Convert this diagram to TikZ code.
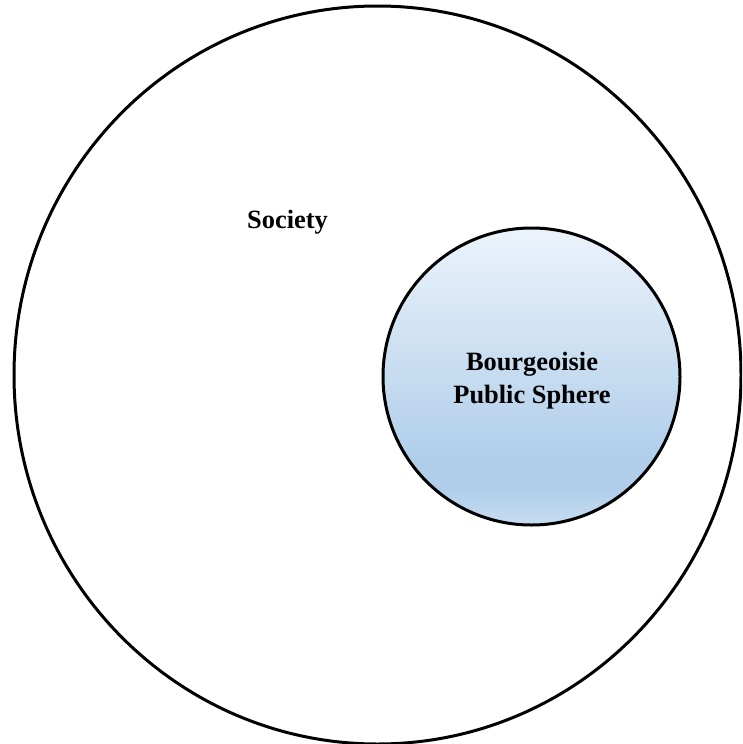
\documentclass[tikz,border=0pt]{standalone}
\usepackage{fontspec}
\setmainfont{Liberation Serif}
\usetikzlibrary{shapes.geometric}

\definecolor{spheretop}{RGB}{236,243,251}
\definecolor{spheredeep}{RGB}{176,206,234}
\definecolor{spherebase}{RGB}{200,221,241}

% soft blue fill: light at the top, deepest near the lower part, lighter again at the rim
\pgfdeclareverticalshading{spherefill}{100bp}{%
  color(0bp)=(spherebase); color(25bp)=(spherebase); color(31bp)=(spheredeep);
  color(36bp)=(spheredeep); color(75bp)=(spheretop); color(100bp)=(spheretop)}

\tikzset{
  ring/.style={draw=black, line width=3pt},
  labeltext/.style={font=\bfseries\fontsize{26.4}{33}\selectfont, text=black, align=center, inner sep=0pt}
}

\begin{document}
\begin{tikzpicture}[x=1pt, y=-1pt]
  \useasboundingbox (0,0) rectangle (742,744);
  \clip (0,0) rectangle (742,744);
  \fill[white] (0,0) rectangle (742,744);

  % society as the large ring
  \node[ring, ellipse, minimum width=727pt, minimum height=738pt, inner sep=0pt] (societyring) at (377.5,375) {};
  \node[labeltext, anchor=base] (society) at (287.5,228) {Society};

  % bourgeois public sphere inside it
  \node[ring, circle, minimum size=297pt, inner sep=0pt, shading=spherefill] (sphere) at (531.5,376.5) {};
  \node[labeltext] (spheretext) at (532,381) {Bourgeoisie\\Public Sphere};
\end{tikzpicture}
\end{document}
